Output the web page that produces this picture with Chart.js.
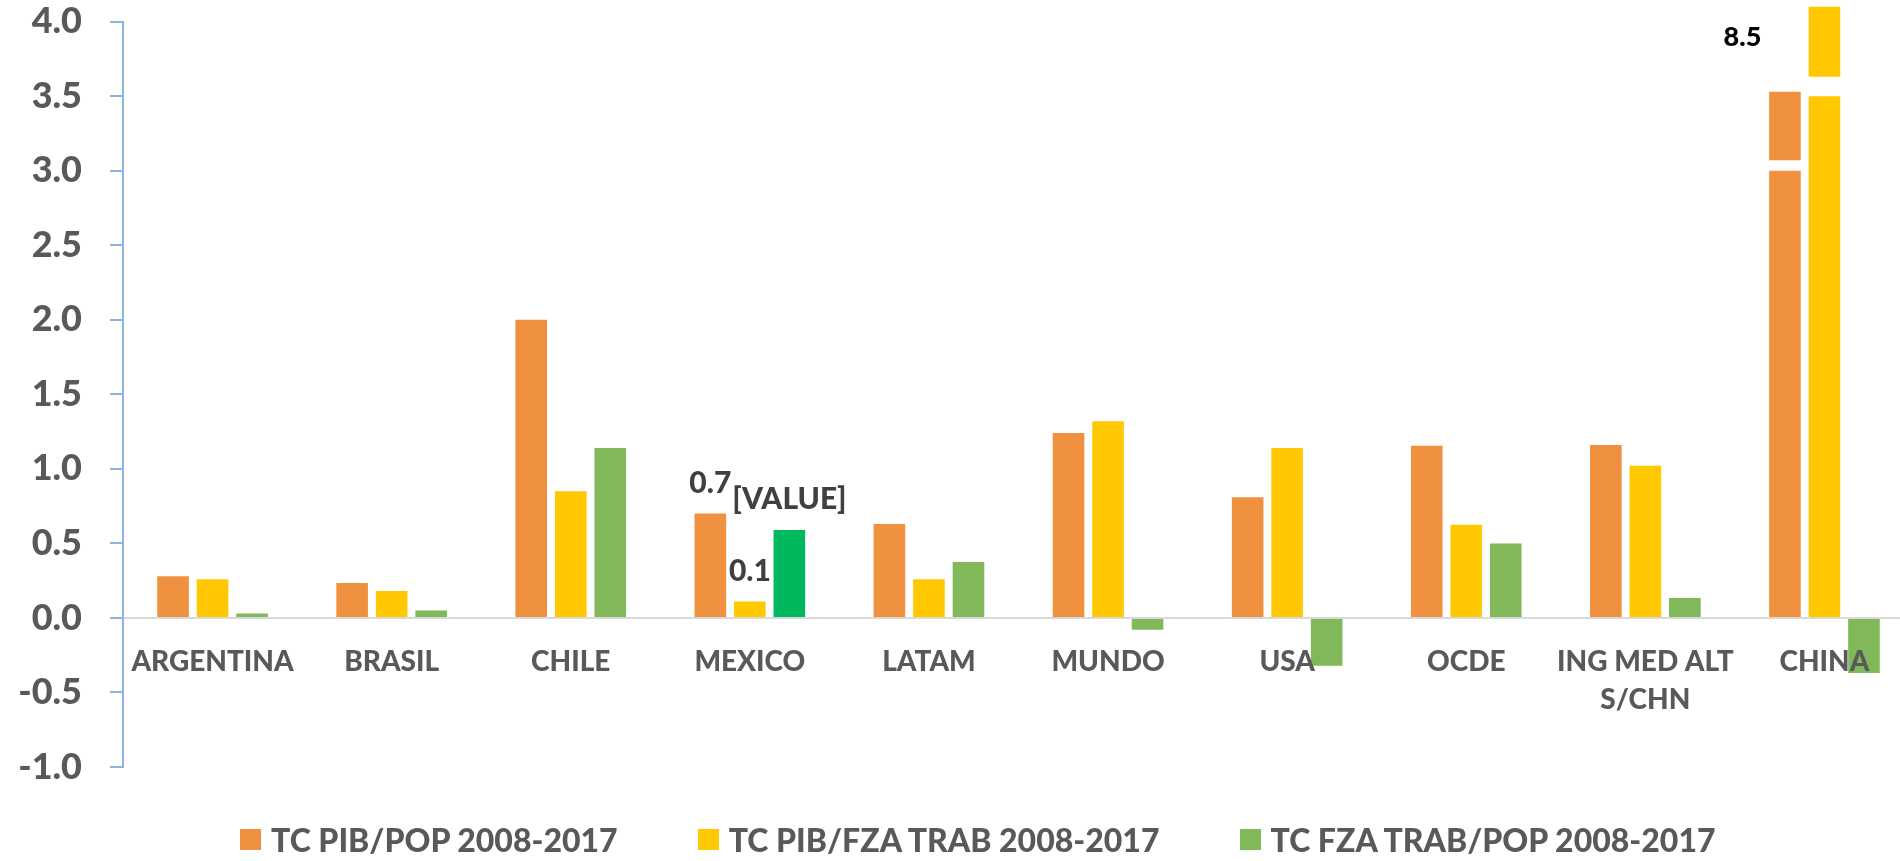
<!DOCTYPE html>
<html>
<head>
<meta charset="utf-8">
<script src="https://cdn.jsdelivr.net/npm/chart.js@4.4.0/dist/chart.umd.min.js"></script>
<style>
  html, body { margin: 0; padding: 0; background: #fff; overflow: hidden; }
  #wrap { position: relative; width: 1900px; height: 861px; overflow: hidden; }
  /* the y tick padding also pads the top of the plot, so the canvas is lifted */
  #chart { position: absolute; left: 0; top: -28px; }
  #legend { position: absolute; left: 240px; top: 820px; display: flex; align-items: center;
            font: 900 32px Lato; color: #595959; white-space: nowrap; }
  .item { display: flex; align-items: center; margin-right: 80px; }
  .sw { width: 21px; height: 21px; margin-right: 10px; }
</style>
</head>
<body>
<div id="wrap">
  <canvas id="chart" width="1916" height="889"></canvas>
  <div id="legend"></div>
</div>
<script>
const categories = ['ARGENTINA', 'BRASIL', 'CHILE', 'MEXICO', 'LATAM', 'MUNDO', 'USA', 'OCDE', ['ING MED ALT', 'S/CHN'], 'CHINA'];
const seriesNames = ['TC PIB/POP 2008-2017', 'TC PIB/FZA TRAB 2008-2017', 'TC FZA TRAB/POP 2008-2017'];

const pibPop  = [0.28, 0.235, 2.0, 0.70, 0.63, 1.24, 0.81, 1.155, 1.16, 8.1];
const pibFza  = [0.26, 0.18, 0.85, 0.11, 0.26, 1.32, 1.14, 0.625, 1.02, 8.5];
const fzaPop  = [0.03, 0.05, 1.14, 0.59, 0.375, -0.08, -0.32, 0.50, 0.134, -0.37];

// value labels as they appear on the original
const lblPibPop = ['', '', '', '0.7', '', '', '', '', '', ''];
const lblPibFza = ['', '', '', '0.1', '', '', '', '', '', ''];
const lblFzaPop = ['', '', '', '[VALUE]', '', '', '', '', '', ''];
const lblPibFzaTop = ['', '', '', '', '', '', '', '', '', '8.5'];

// broken axis: bars over the axis max are cut, and the top is drawn as a short piece
const yTicks = { min: -1, max: 4, step: 0.5 };
const cutPibPop = 3.0, cutPibFza = 3.5;
const piecePibPop = [3.07, 3.53];
const piecePibFza = [3.63, 4.1];

const orange = '#F0913F';
const yellow = '#FFC800';
const green = '#80B85A';
const greenMx = '#00B85E';
const textGrey = '#595959';

const shown = (arr, cut) => arr.map(v => v > yTicks.max ? cut : v);
const pieces = (arr, piece) => arr.map(v => v > yTicks.max ? piece : null);

const barLabels = {
  id: 'barLabels',
  afterDatasetsDraw(chart) {
    const ctx = chart.ctx;
    chart.data.datasets.forEach((ds, i) => {
      if (!ds.valueLabels) return;
      const meta = chart.getDatasetMeta(i);
      meta.data.forEach((bar, j) => {
        const txt = ds.valueLabels[j];
        if (!txt) return;
        ctx.save();
        ctx.font = ds.labelFont;
        ctx.fillStyle = ds.labelColor;
        ctx.textAlign = 'center';
        ctx.textBaseline = 'alphabetic';
        ctx.fillText(txt, bar.x + (ds.labelDx || 0), bar.y + ds.labelDy);
        ctx.restore();
      });
    });
  }
};

const mexLabel = { labelFont: '900 30px Lato', labelColor: '#404040', labelDy: -21 };

const chart = new Chart(document.getElementById('chart'), {
  type: 'bar',
  data: {
    labels: categories,
    datasets: [
      { label: seriesNames[0], data: shown(pibPop, cutPibPop), backgroundColor: orange, stack: 'a',
        valueLabels: lblPibPop, ...mexLabel, inLegend: true },
      { label: seriesNames[1], data: shown(pibFza, cutPibFza), backgroundColor: yellow, stack: 'b',
        valueLabels: lblPibFza, ...mexLabel, inLegend: true },
      { label: seriesNames[2], data: fzaPop, stack: 'c',
        backgroundColor: categories.map(c => c === 'MEXICO' ? greenMx : green),
        legendColor: green, valueLabels: lblFzaPop, ...mexLabel, inLegend: true },
      { label: 'top1', data: pieces(pibPop, piecePibPop), backgroundColor: orange, stack: 'a', clip: false },
      { label: 'top2', data: pieces(pibFza, piecePibFza), backgroundColor: yellow, stack: 'b', clip: false,
        valueLabels: lblPibFzaTop, labelFont: '900 27px Lato', labelColor: '#000', labelDx: -82, labelDy: 39 }
    ]
  },
  options: {
    responsive: false,
    animation: false,
    categoryPercentage: 0.662,
    barPercentage: 0.8,
    layout: { padding: { left: 0, right: 2, top: 0, bottom: 94 } },
    scales: {
      x: {
        position: { y: 0 },
        grid: { display: false, drawTicks: false },
        border: { display: true, color: '#D9D9D9', width: 2 },
        ticks: {
          z: 1, autoSkip: false, maxRotation: 0, padding: 25,
          color: textGrey, font: { family: 'Lato', weight: '900', size: 28, lineHeight: 1.35 }
        }
      },
      y: {
        stacked: false,
        min: yTicks.min, max: yTicks.max,
        afterFit(scale) { scale.width = 123; },
        grid: { drawOnChartArea: false, drawTicks: true, tickLength: 13, color: '#8EB4E3', lineWidth: 2 },
        border: { display: true, color: '#8EB4E3', width: 2 },
        ticks: {
          stepSize: yTicks.step, padding: 28,
          color: textGrey, font: { family: 'Lato', weight: '900', size: 36 },
          callback: v => v.toFixed(1)
        }
      }
    },
    plugins: {
      legend: { display: false },
      tooltip: { enabled: false }
    }
  },
  plugins: [barLabels]
});

// legend
const legendEl = document.getElementById('legend');
chart.data.datasets.filter(d => d.inLegend).forEach(d => {
  const item = document.createElement('div');
  item.className = 'item';
  const sw = document.createElement('span');
  sw.className = 'sw';
  sw.style.background = d.legendColor || d.backgroundColor;
  const txt = document.createElement('span');
  txt.textContent = d.label;
  item.appendChild(sw);
  item.appendChild(txt);
  legendEl.appendChild(item);
});
</script>
</body>
</html>
